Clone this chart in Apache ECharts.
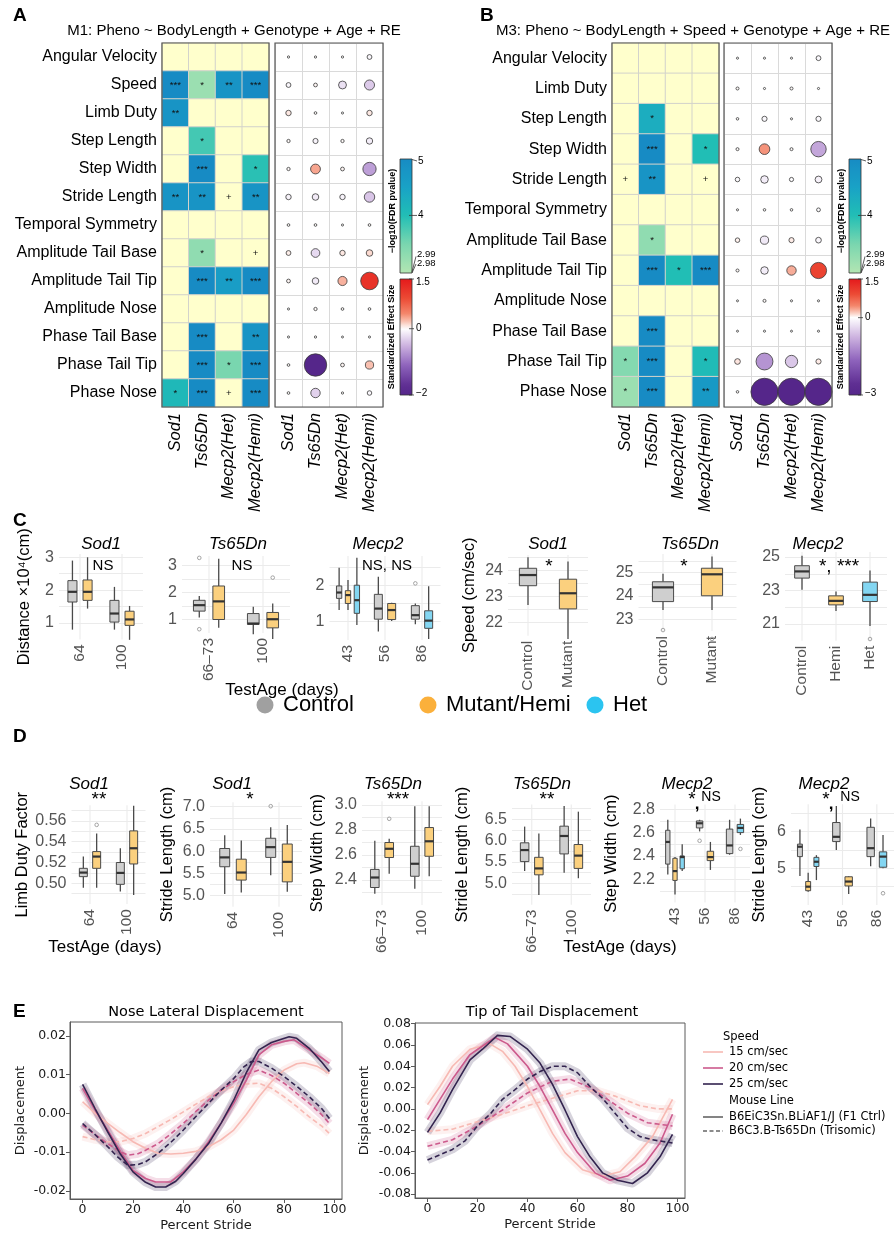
<!DOCTYPE html>
<html>
<head>
<meta charset="utf-8">
<title>Gait phenotypes figure</title>
<script src="https://cdn.jsdelivr.net/npm/echarts@6.0.0/dist/echarts.min.js"></script>
<style>
html,body{margin:0;padding:0;background:#ffffff;}
#chart{width:894px;height:1235px;}
</style>
</head>
<body>
<div id="chart"></div>
<script>
// ======================= DATA =======================
// Panels A / B : heatmap of -log10(FDR p) and effect-size dot plots
const genotypes = ['Sod1', 'Ts65Dn', 'Mecp2(Het)', 'Mecp2(Hemi)'];
const rowsA = ['Angular Velocity', 'Speed', 'Limb Duty', 'Step Length', 'Step Width', 'Stride Length',
  'Temporal Symmetry', 'Amplitude Tail Base', 'Amplitude Tail Tip', 'Amplitude Nose',
  'Phase Tail Base', 'Phase Tail Tip', 'Phase Nose'];
const rowsB = ['Angular Velocity', 'Limb Duty', 'Step Length', 'Step Width', 'Stride Length',
  'Temporal Symmetry', 'Amplitude Tail Base', 'Amplitude Tail Tip', 'Amplitude Nose',
  'Phase Tail Base', 'Phase Tail Tip', 'Phase Nose'];
const pvalA = [
  [0.5, 0.5, 0.5, 0.5],
  [5.0, 3.2, 4.8, 5.0],
  [4.8, 0.5, 0.5, 0.5],
  [0.5, 3.8, 0.5, 0.5],
  [0.5, 5.0, 0.5, 3.95],
  [4.8, 4.8, 2.6, 4.8],
  [0.5, 0.5, 0.5, 0.5],
  [0.5, 3.3, 0.5, 2.6],
  [0.5, 5.0, 4.6, 5.0],
  [0.5, 0.5, 0.5, 0.5],
  [0.5, 5.0, 0.5, 4.8],
  [0.5, 5.0, 3.5, 5.0],
  [4.1, 5.0, 2.6, 5.0]
];
const starsA = [
  ['', '', '', ''],
  ['***', '*', '**', '***'],
  ['**', '', '', ''],
  ['', '*', '', ''],
  ['', '***', '', '*'],
  ['**', '**', '+', '**'],
  ['', '', '', ''],
  ['', '*', '', '+'],
  ['', '***', '**', '***'],
  ['', '', '', ''],
  ['', '***', '', '**'],
  ['', '***', '*', '***'],
  ['*', '***', '+', '***']
];
const effectA = [
  [0.005, 0.005, 0.005, -0.06],
  [-0.06, 0.03, -0.2, -0.35],
  [0.08, 0.01, 0.004, 0.08],
  [0.02, -0.07, 0.02, -0.12],
  [0.02, 0.33, 0.03, -0.65],
  [-0.08, -0.13, -0.08, -0.38],
  [0.01, 0.01, 0.004, 0.01],
  [0.06, -0.25, 0.08, 0.13],
  [0.03, -0.13, 0.28, 1.2],
  [0.004, 0.02, 0.01, 0.01],
  [0.004, 0.005, 0.003, 0.004],
  [0.01, -2.0, 0.03, 0.22],
  [0.01, -0.3, 0.005, -0.05]
];
const pvalB = [
  [0.5, 0.5, 0.5, 0.5],
  [0.5, 0.5, 0.5, 0.5],
  [0.5, 4.3, 0.5, 0.5],
  [0.5, 5.0, 0.5, 4.0],
  [2.6, 4.8, 0.5, 2.6],
  [0.5, 0.5, 0.5, 0.5],
  [0.5, 3.3, 0.5, 0.5],
  [0.5, 5.0, 4.0, 5.0],
  [0.5, 0.5, 0.5, 0.5],
  [0.5, 5.0, 0.5, 0.5],
  [3.4, 5.0, 0.5, 4.05],
  [3.2, 5.0, 0.5, 4.7]
];
const starsB = [
  ['', '', '', ''],
  ['', '', '', ''],
  ['', '*', '', ''],
  ['', '***', '', '*'],
  ['+', '**', '', '+'],
  ['', '', '', ''],
  ['', '*', '', ''],
  ['', '***', '*', '***'],
  ['', '', '', ''],
  ['', '***', '', ''],
  ['*', '***', '', '*'],
  ['*', '***', '', '**']
];
const effectB = [
  [0.004, 0.004, 0.004, -0.06],
  [0.015, 0.004, 0.015, 0.004],
  [0.008, -0.07, 0.004, -0.07],
  [0.015, 0.4, 0.015, -0.9],
  [-0.05, -0.18, -0.04, -0.14],
  [0.004, 0.008, 0.008, -0.03],
  [0.05, -0.22, 0.07, -0.09],
  [0.015, -0.18, 0.3, 1.0],
  [0.003, 0.015, 0.004, 0.004],
  [0.003, 0.004, 0.003, 0.004],
  [0.09, -1.1, -0.55, 0.07],
  [0.008, -3.0, -3.0, -3.0]
];

// Panels C / D : boxplots  [min, Q1, median, Q3, max] per category (null = group absent)
const c1Ages = ['64', '100'];
const c1Control = [[0.8, 1.64, 1.95, 2.29, 2.9], [0.8, 1.03, 1.29, 1.69, 2.1]];
const c1Mutant = [[1.44, 1.69, 1.95, 2.31, 3.0], [0.49, 0.93, 1.11, 1.36, 1.52]];
const c1Outliers = [];

const c2Ages = ['66–73', '100'];
const c2Control = [[1.07, 1.31, 1.53, 1.71, 1.87], [0.45, 0.82, 0.85, 1.22, 1.47]];
const c2Mutant = [[0.69, 1.0, 1.67, 2.24, 3.25], [0.28, 0.69, 1.01, 1.26, 1.59]];
const c2Outliers = [['66–73', 0, 3.28], ['66–73', 0, 0.64], ['100', 1, 2.55]];

const c3Ages = ['43', '56', '86'];
const c3Control = [[1.32, 1.64, 1.8, 1.98, 2.48], [0.73, 1.07, 1.36, 1.75, 2.23], [0.93, 1.07, 1.18, 1.44, 1.5]];
const c3Hemi = [[1.32, 1.5, 1.73, 1.85, 2.14], [1.02, 1.06, 1.32, 1.5, 1.52], null];
const c3Het = [[0.91, 1.23, 1.59, 2.0, 2.75], null, [0.53, 0.82, 1.03, 1.3, 1.97]];
const c3Outliers = [['86', 0, 2.05]];

const c4Groups = ['Control', 'Mutant'];
const c4Control = [[22.68, 23.42, 23.83, 24.09, 24.51], null];
const c4Mutant = [null, [21.37, 22.53, 23.13, 23.67, 24.35]];
const c4Outliers = [];

const c5Groups = ['Control', 'Mutant'];
const c5Control = [[23.4, 23.76, 24.37, 24.61, 24.95], null];
const c5Mutant = [null, [23.4, 24.01, 24.93, 25.19, 25.69]];
const c5Outliers = [['Control', 0, 22.54], ['Mutant', 1, 22.16]];

const c6Groups = ['Control', 'Hemi', 'Het'];
const c6Control = [[23.04, 23.74, 24.14, 24.48, 25.08], null, null];
const c6Hemi = [null, [21.78, 22.14, 22.38, 22.68, 22.94], null];
const c6Het = [null, null, [20.88, 22.34, 22.74, 23.5, 24.2]];
const c6Outliers = [['Het', 2, 20.1]];

const d1Ages = ['64', '100'];
const d1Control = [[0.4958, 0.5064, 0.5103, 0.5144, 0.5257], [0.492, 0.499, 0.51, 0.52, 0.5337]];
const d1Mutant = [[0.4958, 0.5144, 0.5257, 0.5305, 0.548], [0.4888, 0.5186, 0.5337, 0.5504, 0.5745]];
const d1Outliers = [['64', 1, 0.5562]];

const d2Ages = ['64', '100'];
const d2Control = [[5.04, 5.65, 5.86, 6.06, 6.36], [5.46, 5.86, 6.09, 6.29, 6.54]];
const d2Mutant = [[5.07, 5.35, 5.52, 5.82, 6.24], [5.09, 5.31, 5.76, 6.16, 6.59]];
const d2Outliers = [['100', 0, 7.01]];

const d3Ages = ['66–73', '100'];
const d3Control = [[2.29, 2.34, 2.42, 2.485, 2.715], [2.33, 2.43, 2.53, 2.67, 2.99]];
const d3Mutant = [[2.45, 2.58, 2.65, 2.70, 2.73], [2.43, 2.59, 2.71, 2.82, 2.99]];
const d3Outliers = [['66–73', 1, 2.89]];

const d4Ages = ['66–73', '100'];
const d4Control = [[5.29, 5.51, 5.78, 5.95, 6.33], [5.25, 5.69, 6.11, 6.34, 6.81]];
const d4Mutant = [[4.73, 5.2, 5.35, 5.61, 6.17], [5.12, 5.35, 5.65, 5.91, 6.68]];
const d4Outliers = [];

const d5Ages = ['43', '56', '86'];
const d5Control = [[2.24, 2.33, 2.52, 2.62, 2.71], [2.61, 2.64, 2.68, 2.70, 2.71], [2.41, 2.42, 2.49, 2.63, 2.71]];
const d5Hemi = [[2.07, 2.19, 2.27, 2.38, 2.39], [2.28, 2.36, 2.39, 2.44, 2.52], null];
const d5Het = [[2.27, 2.29, 2.39, 2.40, 2.5], null, [2.58, 2.6, 2.64, 2.67, 2.72]];
const d5Outliers = [['56', 0, 2.53], ['86', 2, 2.46]];

const d6Ages = ['43', '56', '86'];
const d6Control = [[4.79, 5.32, 5.59, 5.66, 6.06], [5.5, 5.73, 5.86, 6.25, 6.7], [5.06, 5.32, 5.55, 6.12, 6.36]];
const d6Hemi = [[4.36, 4.39, 4.5, 4.64, 4.88], [4.3, 4.52, 4.64, 4.77, 4.79], null];
const d6Het = [[4.68, 5.05, 5.18, 5.3, 5.36], null, [5.0, 5.03, 5.32, 5.45, 5.91]];
const d6Outliers = [['86', 2, 4.32]];

// Panel E : mean displacement curves  [percent stride, displacement]
const percentTicks = [0, 20, 40, 60, 80, 100];
const noseTicks = [-0.02, -0.01, 0, 0.01, 0.02];
const tailTicks = [-0.08, -0.06, -0.04, -0.02, 0, 0.02, 0.04, 0.06, 0.08];
const noseCtrl15 = [[0,0.003],[5,0.0],[10,-0.0026],[15,-0.005],[20,-0.0073],[25,-0.009],[30,-0.0103],[35,-0.0105],[40,-0.0103],[45,-0.0098],[50,-0.0086],[55,-0.0068],[60,-0.0043],[65,-0.0003],[70,0.0043],[75,0.0082],[80,0.0112],[85,0.0128],[88,0.0131],[93,0.0122],[98,0.0103]];
const noseCtrl20 = [[0,0.0065],[5,0.0008],[10,-0.0043],[15,-0.0098],[20,-0.0147],[25,-0.0168],[29,-0.0177],[35,-0.0177],[40,-0.0151],[45,-0.0118],[50,-0.0073],[55,-0.0025],[60,0.0026],[65,0.0086],[70,0.0151],[75,0.0177],[80,0.0186],[84,0.019],[90,0.0164],[95,0.0143],[98,0.0129]];
const noseCtrl25 = [[0,0.0075],[5,0.0012],[10,-0.0048],[15,-0.0105],[20,-0.0151],[25,-0.0178],[29,-0.019],[33,-0.019],[37,-0.0175],[40,-0.0155],[45,-0.0118],[50,-0.0078],[55,-0.0025],[60,0.0034],[65,0.0105],[70,0.0164],[75,0.0183],[82,0.0198],[85,0.0194],[90,0.0168],[95,0.0132],[98,0.0108]];
const noseTri15 = [[0,-0.006],[5,-0.0068],[10,-0.0073],[15,-0.0073],[20,-0.0065],[25,-0.0052],[30,-0.0034],[35,-0.0016],[40,0.0004],[45,0.0024],[50,0.0043],[55,0.0058],[60,0.0069],[65,0.0076],[70,0.0078],[75,0.0065],[80,0.0043],[85,0.0018],[90,-0.0009],[95,-0.0033],[98,-0.0052]];
const noseTri20 = [[0,-0.003],[5,-0.0055],[10,-0.0078],[14,-0.0095],[18,-0.0108],[22,-0.0104],[25,-0.0095],[30,-0.0078],[35,-0.0053],[40,-0.0026],[45,0.0005],[50,0.0034],[55,0.006],[60,0.0082],[65,0.0101],[70,0.0112],[75,0.0098],[80,0.0078],[85,0.0052],[90,0.0026],[95,-0.0004],[98,-0.0026]];
const noseTri25 = [[0,-0.0026],[5,-0.0055],[10,-0.0086],[14,-0.0113],[18,-0.0134],[22,-0.0132],[25,-0.0125],[30,-0.0103],[35,-0.0075],[40,-0.0043],[45,-0.0008],[50,0.0026],[55,0.006],[60,0.009],[64,0.012],[67,0.0134],[70,0.0134],[75,0.0117],[80,0.0095],[85,0.007],[90,0.0043],[95,0.0012],[98,-0.0013]];
const tailCtrl15 = [[0,0.004],[5,0.021],[10,0.040],[17,0.056],[25,0.061],[30,0.054],[35,0.040],[40,0.021],[45,-0.001],[50,-0.023],[55,-0.041],[62,-0.057],[70,-0.063],[77,-0.059],[83,-0.045],[90,-0.026],[98,0.009]];
const tailCtrl20 = [[0,-0.010],[5,0.009],[10,0.028],[17,0.051],[22,0.059],[27,0.067],[32,0.061],[40,0.040],[45,0.021],[50,-0.001],[55,-0.023],[60,-0.041],[67,-0.060],[73,-0.067],[80,-0.063],[87,-0.051],[93,-0.032],[98,-0.005]];
const tailCtrl25 = [[0,-0.022],[5,-0.004],[10,0.018],[17,0.046],[22,0.056],[28,0.069],[33,0.068],[40,0.056],[45,0.043],[50,0.023],[55,-0.001],[60,-0.026],[65,-0.045],[70,-0.060],[76,-0.067],[82,-0.070],[88,-0.060],[93,-0.045],[98,-0.024]];
const tailTri15 = [[0,-0.021],[10,-0.019],[20,-0.012],[30,-0.005],[40,0.003],[50,0.010],[60,0.017],[68,0.017],[75,0.012],[85,0.003],[92,0.000],[98,0.000]];
const tailTri20 = [[0,-0.035],[10,-0.029],[20,-0.016],[30,-0.001],[40,0.015],[50,0.026],[57,0.028],[65,0.020],[72,0.009],[80,-0.004],[88,-0.013],[98,-0.016]];
const tailTri25 = [[0,-0.048],[5,-0.043],[10,-0.038],[15,-0.030],[20,-0.016],[25,-0.005],[30,0.009],[35,0.018],[40,0.028],[45,0.035],[50,0.040],[55,0.040],[60,0.034],[65,0.021],[70,0.010],[75,-0.004],[80,-0.018],[85,-0.026],[90,-0.029],[98,-0.032]];

// ======================= STYLE HELPERS =======================
const FF = '"Liberation Sans", Arial, Helvetica, sans-serif';
const FE = '"DejaVu Sans", Verdana, sans-serif';
const NS_COLOR = '#FFFFCC';
const P_STOPS = [[2.98, '#B4E6B3'], [3.5, '#79D6AF'], [4.0, '#21BEB5'], [4.5, '#19A2C6'], [5.0, '#178BC4']];
const NEG_STOPS = [[0, '#FFFFFF'], [0.25, '#CDB3E0'], [0.55, '#8E63BC'], [0.85, '#5F2F93'], [1, '#55268A']];
const POS_STOPS = [[0, '#FFFFFF'], [0.15, '#F9BFAE'], [0.3, '#F4876C'], [0.6, '#EC4B35'], [1, '#E4191B']];
const BOX_FILL = ['#CFCFCF', '#FBD07E', '#83D6F2'];
const SPEED_COL = { s15: '#F7B9B3', s20: '#CC5A8C', s25: '#33244F' };

function hex2rgb(h) { return [parseInt(h.slice(1, 3), 16), parseInt(h.slice(3, 5), 16), parseInt(h.slice(5, 7), 16)]; }
function ramp(stops, t) {
  t = Math.max(stops[0][0], Math.min(stops[stops.length - 1][0], t));
  for (let i = 1; i < stops.length; i++) {
    if (t <= stops[i][0]) {
      const a = stops[i - 1], b = stops[i];
      const f = (t - a[0]) / ((b[0] - a[0]) || 1);
      const ca = hex2rgb(a[1]), cb = hex2rgb(b[1]);
      return 'rgb(' + ca.map((v, k) => Math.round(v + (cb[k] - v) * f)).join(',') + ')';
    }
  }
  return stops[stops.length - 1][1];
}
function pColor(v) { return v < 2.98 ? NS_COLOR : ramp(P_STOPS, v); }
function effColor(v, lo, hi) { return v < 0 ? ramp(NEG_STOPS, Math.min(1, v / lo)) : ramp(POS_STOPS, Math.min(1, v / hi)); }
function dotSize(v) { return 1.2 + 15 * Math.sqrt(Math.abs(v)); }

const grids = [], xAxes = [], yAxes = [], series = [], graphics = [];
function addGrid(g, x, y) {
  const i = grids.length;
  grids.push(g);
  xAxes.push(Object.assign({ gridIndex: i }, x));
  yAxes.push(Object.assign({ gridIndex: i }, y));
  return i;
}
function T(x, y, text, o) {
  o = o || {};
  graphics.push({ type: 'text', x: x, y: y, rotation: o.rot || 0, silent: true, z: 100,
    style: { text: text, x: 0, y: 0, fill: o.color || '#000', fontSize: o.size || 14, fontFamily: o.family || FF,
      fontWeight: o.weight || 'normal', fontStyle: o.style || 'normal', textAlign: o.align || 'center',
      textVerticalAlign: o.valign || 'middle' } });
}
function L(x1, y1, x2, y2, o) {
  o = o || {};
  graphics.push({ type: 'line', silent: true, z: 100, shape: { x1: x1, y1: y1, x2: x2, y2: y2 },
    style: { stroke: o.color || '#333', lineWidth: o.width || 1, lineDash: o.dash || null } });
}
function R(x, y, w, h, o) {
  o = o || {};
  graphics.push({ type: 'rect', silent: true, z: o.z || 100, shape: { x: x, y: y, width: w, height: h },
    style: { fill: o.fill || 'none', stroke: o.stroke || null, lineWidth: o.lw || 1 } });
}
function Circ(cx, cy, r, fill) {
  graphics.push({ type: 'circle', silent: true, z: 100, shape: { cx: cx, cy: cy, r: r }, style: { fill: fill } });
}
function gradStops(fn, vTop, vBot, n) {
  const s = [];
  for (let i = 0; i <= n; i++) { const v = vTop + (vBot - vTop) * i / n; s.push({ offset: i / n, color: fn(v) }); }
  return s;
}

// ======================= PANELS A / B =======================
const HM_TOP = 43, HM_H = 364, HM_W = 107, DOT_W = 108;
const genoLabel = { interval: 0, rotate: 90, fontStyle: 'italic', fontSize: 16.5, color: '#000', margin: 6, fontFamily: FF };

function heatPanel(left, rows, pv, stars) {
  const gi = addGrid({ left: left, top: HM_TOP, width: HM_W, height: HM_H },
    { type: 'category', data: genotypes, axisLine: { show: false }, axisTick: { show: false }, splitLine: { show: false }, axisLabel: genoLabel },
    { type: 'category', data: rows, inverse: true, axisLine: { show: false }, axisTick: { show: false }, splitLine: { show: false },
      axisLabel: { interval: 0, fontSize: 16, color: '#000', margin: 5, fontFamily: FF } });
  const data = [];
  rows.forEach((r, i) => genotypes.forEach((g, j) => data.push({ value: [j, i, pv[i][j]], itemStyle: { color: pColor(pv[i][j]) } })));
  series.push({ type: 'heatmap', xAxisIndex: gi, yAxisIndex: gi, data: data, silent: true,
    itemStyle: { borderColor: '#D3D3CB', borderWidth: 1 },
    label: { show: true, formatter: p => stars[p.value[1]][p.value[0]], fontSize: 9.5, color: '#111', fontFamily: FF },
    emphasis: { disabled: true } });
  R(left, HM_TOP, HM_W, HM_H, { stroke: '#555', lw: 1.2 });
}
function dotPanel(left, rows, eff, lo, hi) {
  const gi = addGrid({ left: left, top: HM_TOP, width: DOT_W, height: HM_H },
    { type: 'category', data: genotypes, axisLine: { show: false }, axisTick: { show: false },
      splitLine: { show: true, interval: 0, lineStyle: { color: '#DADADA' } }, axisLabel: genoLabel },
    { type: 'category', data: rows, inverse: true, axisLine: { show: false }, axisTick: { show: false },
      splitLine: { show: true, interval: 0, lineStyle: { color: '#DADADA' } }, axisLabel: { show: false } });
  const data = [];
  rows.forEach((r, i) => genotypes.forEach((g, j) => data.push([j, i, eff[i][j]])));
  series.push({ type: 'scatter', xAxisIndex: gi, yAxisIndex: gi, data: data, silent: true, z: 3,
    symbolSize: v => dotSize(v[2]),
    itemStyle: { color: p => effColor(p.value[2], lo, hi), borderColor: '#3A3A3A', borderWidth: 0.8, opacity: 1 },
    emphasis: { disabled: true } });
  R(left, HM_TOP, DOT_W, HM_H, { stroke: '#555', lw: 1.2 });
}
function colorbars(x, effLo, effHi) {
  // -log10(FDR p) bar
  const pTop = 159, pH = 114;
  R(x, pTop, 12, pH, { fill: { type: 'linear', x: 0, y: 0, x2: 0, y2: 1, colorStops: gradStops(v => ramp(P_STOPS, v), 5, 2.98, 24) }, stroke: '#333', lw: 0.8 });
  const py = v => pTop + (5 - v) / (5 - 2.98) * pH;
  L(x + 12, py(5) + 0.5, x + 17, py(5) + 2, { color: '#333', width: 0.8 });
  T(x + 18, py(5) + 2, '5', { size: 10, align: 'left' });
  L(x + 9, py(4), x + 17, py(4), { color: '#333', width: 0.8 });
  T(x + 18, py(4), '4', { size: 10, align: 'left' });
  L(x + 12, py(2.99) - 0.5, x + 16, py(2.99) - 16, { color: '#333', width: 0.8 });
  T(x + 17, py(2.99) - 18, '2.99', { size: 9.5, align: 'left' });
  L(x + 12, py(2.98), x + 16, py(2.98) - 9, { color: '#333', width: 0.8 });
  T(x + 17, py(2.98) - 10, '2.98', { size: 9.5, align: 'left' });
  T(x - 7, pTop + 52, '\u2212log10(FDR pvalue)', { size: 9, weight: 'bold', rot: Math.PI / 2 });
  // effect size bar
  const eTop = 279, eH = 116;
  R(x, eTop, 12, eH, { fill: { type: 'linear', x: 0, y: 0, x2: 0, y2: 1, colorStops: gradStops(v => effColor(v, effLo, effHi), effHi, effLo, 30) }, stroke: '#333', lw: 0.8 });
  const ey = v => eTop + (effHi - v) / (effHi - effLo) * eH;
  [effHi, 0, effLo].forEach(v => {
    L(x + 9, ey(v), x + 14, ey(v), { color: '#333', width: 0.8 });
    T(x + 16, Math.min(Math.max(ey(v), eTop + 3), eTop + eH - 2), v < 0 ? '\u2212' + Math.abs(v) : String(v), { size: 10, align: 'left' });
  });
  T(x - 8, eTop + eH / 2, 'Standardized Effect Size', { size: 9, weight: 'bold', rot: Math.PI / 2 });
}

heatPanel(162, rowsA, pvalA, starsA);
dotPanel(275, rowsA, effectA, -2, 1.5);
colorbars(400, -2, 1.5);
heatPanel(612, rowsB, pvalB, starsB);
dotPanel(724, rowsB, effectB, -3, 1.5);
colorbars(849, -3, 1.5);

T(13, 16, 'A', { size: 19, weight: 'bold', align: 'left' });
T(480, 16, 'B', { size: 19, weight: 'bold', align: 'left' });
T(234, 31, 'M1: Pheno ~ BodyLength + Genotype + Age + RE', { size: 15 });
T(693, 31, 'M3: Pheno ~ BodyLength + Speed + Genotype + Age + RE', { size: 15 });

// ======================= PANELS C / D (boxplots) =======================
function boxRecords(cats, groups) {
  const recs = [];
  cats.forEach((c, i) => {
    const pres = [];
    groups.forEach((g, gi) => { if (g && g[i]) pres.push(gi); });
    pres.forEach((gi, k) => { const b = groups[gi][i]; recs.push([i, b[0], b[1], b[2], b[3], b[4], pres.length, k, gi]); });
  });
  return recs;
}
function outlierRecords(cats, groups, outs) {
  return outs.map(o => {
    const i = cats.indexOf(o[0]);
    const pres = [];
    groups.forEach((g, gi) => { if (g && g[i]) pres.push(gi); });
    return [i, o[2], pres.length, pres.indexOf(o[1]), o[1]];
  });
}
function dodge(api, n, k) {
  const band = api.size([1, 0])[0];
  const slot = band * 0.72 / n;
  return { off: (k - (n - 1) / 2) * slot, hw: slot * 0.3 };
}
function renderBox(params, api) {
  const ci = api.value(0);
  const d = dodge(api, api.value(6), api.value(7));
  const gi = api.value(8);
  const pMin = api.coord([ci, api.value(1)]), pQ1 = api.coord([ci, api.value(2)]), pMed = api.coord([ci, api.value(3)]),
        pQ3 = api.coord([ci, api.value(4)]), pMax = api.coord([ci, api.value(5)]);
  const cx = pMin[0] + d.off, hw = d.hw, stroke = '#4A4A4A';
  return { type: 'group', children: [
    { type: 'line', shape: { x1: cx, y1: pMax[1], x2: cx, y2: pQ3[1] }, style: { stroke: stroke, lineWidth: 1.3 } },
    { type: 'line', shape: { x1: cx, y1: pQ1[1], x2: cx, y2: pMin[1] }, style: { stroke: stroke, lineWidth: 1.3 } },
    { type: 'rect', shape: { x: cx - hw, y: pQ3[1], width: 2 * hw, height: pQ1[1] - pQ3[1] }, style: { fill: BOX_FILL[gi], stroke: stroke, lineWidth: 1 } },
    { type: 'line', shape: { x1: cx - hw, y1: pMed[1], x2: cx + hw, y2: pMed[1] }, style: { stroke: '#333', lineWidth: 2.2 } }
  ] };
}
function renderOutlier(params, api) {
  const ci = api.value(0);
  const d = dodge(api, api.value(2), api.value(3));
  const p = api.coord([ci, api.value(1)]);
  return { type: 'circle', shape: { cx: p[0] + d.off, cy: p[1], r: 1.8 }, style: { fill: 'none', stroke: '#9A9A9A', lineWidth: 0.9 } };
}
function renderVGrid(params, api) {
  const p = api.coord([api.value(0), 0]);
  const cs = params.coordSys;
  return { type: 'line', shape: { x1: p[0], y1: cs.y, x2: p[0], y2: cs.y + cs.height }, style: { stroke: '#EBEBEB', lineWidth: 1.1 } };
}
function boxPanel(c) {
  const isMajor = v => Math.abs((v - (c.base || 0)) / c.major - Math.round((v - (c.base || 0)) / c.major)) < 1e-6;
  const gi = addGrid({ left: c.left, top: c.top, width: c.width, height: c.height },
    { type: 'category', data: c.cats, axisLine: { show: false }, axisTick: { show: false }, splitLine: { show: false },
      axisLabel: { interval: 0, rotate: 90, fontSize: 15.5, color: '#555', margin: 5, fontFamily: FF } },
    { type: 'value', min: c.min, max: c.max, interval: c.step, axisLine: { show: false }, axisTick: { show: false },
      axisLabel: { showMinLabel: false, showMaxLabel: false, fontSize: 16, color: '#555', margin: 5, fontFamily: FF,
        formatter: v => isMajor(v) ? v.toFixed(c.dec) : '' },
      splitLine: { show: true, showMinLine: false, showMaxLine: false, lineStyle: { color: '#EBEBEB', width: 1 } },
      name: c.name || '', nameLocation: 'middle', nameGap: c.nameGap || 30, nameRotate: 90,
      nameTextStyle: { fontSize: 16.5, color: '#000', fontFamily: FF } });
  series.push({ type: 'custom', xAxisIndex: gi, yAxisIndex: gi, silent: true, z: 1, renderItem: renderVGrid,
    data: c.cats.map((cat, i) => [i]), encode: { x: 0 } });
  series.push({ type: 'custom', xAxisIndex: gi, yAxisIndex: gi, silent: true, z: 3, renderItem: renderBox,
    data: boxRecords(c.cats, c.groups), encode: { x: 0, y: [1, 5] } });
  if (c.outliers.length) {
    series.push({ type: 'custom', xAxisIndex: gi, yAxisIndex: gi, silent: true, z: 4, renderItem: renderOutlier,
      data: outlierRecords(c.cats, c.groups, c.outliers), encode: { x: 0, y: 1 } });
  }
}

boxPanel({ left: 59, top: 554, width: 84, height: 85.5, cats: c1Ages, groups: [c1Control, c1Mutant], outliers: c1Outliers,
  min: 0.5, max: 3.1, step: 0.5, major: 1, dec: 0, name: 'Distance \u00d710\u2074(cm)', nameGap: 26 });
boxPanel({ left: 182, top: 556, width: 108, height: 77, cats: c2Ages, groups: [c2Control, c2Mutant], outliers: c2Outliers,
  min: 0.5, max: 3.35, step: 0.5, major: 1, dec: 0 });
boxPanel({ left: 329.5, top: 556, width: 111, height: 84, cats: c3Ages, groups: [c3Control, c3Hemi, c3Het], outliers: c3Outliers,
  min: 0.5, max: 2.8, step: 0.5, major: 1, dec: 0 });
boxPanel({ left: 508, top: 555, width: 80, height: 80.7, cats: c4Groups, groups: [c4Control, c4Mutant], outliers: c4Outliers,
  min: 21.5, max: 24.6, step: 0.5, major: 1, dec: 0, name: 'Speed (cm/sec)', nameGap: 30 });
boxPanel({ left: 638.5, top: 554, width: 98, height: 77, cats: c5Groups, groups: [c5Control, c5Mutant], outliers: c5Outliers,
  min: 22.5, max: 25.8, step: 0.5, major: 1, dec: 0 });
boxPanel({ left: 785, top: 552, width: 102, height: 88.7, cats: c6Groups, groups: [c6Control, c6Hemi, c6Het], outliers: c6Outliers,
  min: 20, max: 25.3, step: 1, major: 2, base: 21, dec: 0 });

boxPanel({ left: 71.5, top: 805.3, width: 74, height: 98.8, cats: d1Ages, groups: [d1Control, d1Mutant], outliers: d1Outliers,
  min: 0.48, max: 0.575, step: 0.01, major: 0.02, dec: 2, name: 'Limb Duty Factor', nameGap: 41 });
boxPanel({ left: 210, top: 802.2, width: 92, height: 104.6, cats: d2Ages, groups: [d2Control, d2Mutant], outliers: d2Outliers,
  min: 4.75, max: 7.1, step: 0.25, major: 0.5, dec: 1, name: 'Stride Length (cm)', nameGap: 34 });
boxPanel({ left: 362, top: 801.3, width: 80, height: 103.7, cats: d3Ages, groups: [d3Control, d3Mutant], outliers: d3Outliers,
  min: 2.2, max: 3.03, step: 0.1, major: 0.2, dec: 1, name: 'Step Width (cm)', nameGap: 36 });
boxPanel({ left: 512, top: 804.4, width: 79, height: 100.3, cats: d4Ages, groups: [d4Control, d4Mutant], outliers: d4Outliers,
  min: 4.5, max: 6.85, step: 0.25, major: 0.5, dec: 1, name: 'Stride Length (cm)', nameGap: 41 });
boxPanel({ left: 660, top: 804.6, width: 90, height: 98, cats: d5Ages, groups: [d5Control, d5Hemi, d5Het], outliers: d5Outliers,
  min: 2.0, max: 2.84, step: 0.1, major: 0.2, dec: 1, name: 'Step Width (cm)', nameGap: 40 });
boxPanel({ left: 791, top: 804.2, width: 103, height: 100.8, cats: d6Ages, groups: [d6Control, d6Hemi, d6Het], outliers: d6Outliers,
  min: 4.0, max: 6.75, step: 0.5, major: 1, dec: 0, name: 'Stride Length (cm)', nameGap: 23 });

// C / D annotations
T(13, 521, 'C', { size: 19, weight: 'bold', align: 'left' });
[[101, 'Sod1'], [238, 'Ts65Dn'], [378, 'Mecp2'], [548, 'Sod1'], [690, 'Ts65Dn'], [818, 'Mecp2']].forEach(t => T(t[0], 544, t[1], { size: 17, style: 'italic' }));
T(103, 566, 'NS', { size: 15 });
T(242, 566, 'NS', { size: 15 });
T(387, 566, 'NS, NS', { size: 15 });
T(549, 567, '*', { size: 19 });
T(684, 567, '*', { size: 19 });
T(839, 567, '*, ***', { size: 19 });
T(282, 690, 'TestAge (days)', { size: 17 });

Circ(265, 705, 8.5, '#A0A0A0'); T(283, 705, 'Control', { size: 22, align: 'left' });
Circ(428, 705, 8.5, '#FBB03B'); T(446, 705, 'Mutant/Hemi', { size: 22, align: 'left' });
Circ(595, 705, 8.5, '#2BC4F0'); T(613, 705, 'Het', { size: 22, align: 'left' });

T(13, 737, 'D', { size: 19, weight: 'bold', align: 'left' });
[[89, 'Sod1'], [232, 'Sod1'], [393, 'Ts65Dn'], [542, 'Ts65Dn'], [687, 'Mecp2'], [824, 'Mecp2']].forEach(t => T(t[0], 784, t[1], { size: 17, style: 'italic' }));
T(99, 800, '**', { size: 19 });
T(250, 800, '*', { size: 19 });
T(398, 800, '***', { size: 19 });
T(547, 800, '**', { size: 19 });
T(692, 800, '*', { size: 19 }); T(697, 804, ',', { size: 17, weight: 'bold' }); T(711, 797, 'NS', { size: 14 });
T(826, 800, '*', { size: 19 }); T(831, 804, ',', { size: 17, weight: 'bold' }); T(850, 797, 'NS', { size: 14 });
T(105, 947, 'TestAge (days)', { size: 17 });
T(620, 947, 'TestAge (days)', { size: 17 });

// ======================= PANEL E (lines) =======================
function linePanel(c) {
  const axisCol = '#5A5A5A';
  const gi = addGrid({ left: c.left, top: c.top, width: c.width, height: c.height, show: true, borderColor: axisCol, borderWidth: 1, backgroundColor: 'rgba(0,0,0,0)' },
    { type: 'value', min: -5, max: 103, axisLine: { show: true, onZero: false, lineStyle: { color: axisCol } },
      axisTick: { show: true, customValues: percentTicks, length: 4, lineStyle: { color: axisCol } },
      axisLabel: { customValues: percentTicks, fontSize: 12.5, color: '#1A1A1A', fontFamily: FE, margin: 4 },
      splitLine: { show: false }, name: 'Percent Stride', nameLocation: 'middle', nameGap: 20,
      nameTextStyle: { fontFamily: FE, fontSize: 13, color: '#1A1A1A' } },
    { type: 'value', min: c.min, max: c.max, axisLine: { show: true, onZero: false, lineStyle: { color: axisCol } },
      axisTick: { show: true, customValues: c.ticks, length: 4, lineStyle: { color: axisCol } },
      axisLabel: { customValues: c.ticks, fontSize: 12.5, color: '#1A1A1A', fontFamily: FE, margin: 4, formatter: v => v.toFixed(2) },
      splitLine: { show: false }, name: 'Displacement', nameLocation: 'middle', nameGap: c.nameGap, nameRotate: 90,
      nameTextStyle: { fontFamily: FE, fontSize: 13, color: '#1A1A1A' } });
  c.lines.forEach(l => series.push({ type: 'line', xAxisIndex: gi, yAxisIndex: gi, data: l.data, symbol: 'none', silent: true, z: 2,
    lineStyle: { color: l.color, width: 8, opacity: 0.2, join: 'round' }, emphasis: { disabled: true } }));
  c.lines.forEach(l => series.push({ type: 'line', xAxisIndex: gi, yAxisIndex: gi, data: l.data, symbol: 'none', silent: true, z: 3,
    lineStyle: { color: l.color, width: 1.6, type: l.dashed ? [5, 3] : 'solid' }, emphasis: { disabled: true } }));
}
linePanel({ left: 70, top: 1022, width: 272, height: 177, min: -0.0221, max: 0.0236, ticks: noseTicks, nameGap: 43,
  lines: [
    { data: noseCtrl15, color: SPEED_COL.s15 }, { data: noseTri15, color: SPEED_COL.s15, dashed: true },
    { data: noseCtrl20, color: SPEED_COL.s20 }, { data: noseTri20, color: SPEED_COL.s20, dashed: true },
    { data: noseCtrl25, color: SPEED_COL.s25 }, { data: noseTri25, color: SPEED_COL.s25, dashed: true }
  ] });
linePanel({ left: 415, top: 1023, width: 270, height: 175, min: -0.0836, max: 0.0806, ticks: tailTicks, nameGap: 44,
  lines: [
    { data: tailCtrl15, color: SPEED_COL.s15 }, { data: tailTri15, color: SPEED_COL.s15, dashed: true },
    { data: tailCtrl20, color: SPEED_COL.s20 }, { data: tailTri20, color: SPEED_COL.s20, dashed: true },
    { data: tailCtrl25, color: SPEED_COL.s25 }, { data: tailTri25, color: SPEED_COL.s25, dashed: true }
  ] });

T(13, 1012, 'E', { size: 19, weight: 'bold', align: 'left' });
T(206, 1012, 'Nose Lateral Displacement', { size: 14.5, family: FE });
T(552, 1012, 'Tip of Tail Displacement', { size: 14.5, family: FE });
// legend of E
T(723, 1037, 'Speed', { size: 11.5, family: FE, align: 'left' });
[[1052, '15 cm/sec', SPEED_COL.s15], [1068, '20 cm/sec', SPEED_COL.s20], [1084, '25 cm/sec', SPEED_COL.s25]].forEach(r => {
  L(703, r[0], 723, r[0], { color: r[2], width: 1.6 });
  T(729, r[0], r[1], { size: 11.5, family: FE, align: 'left' });
});
T(729, 1101, 'Mouse Line', { size: 11.5, family: FE, align: 'left' });
L(703, 1117, 723, 1117, { color: '#666', width: 1.6 });
T(729, 1117, 'B6EiC3Sn.BLiAF1/J (F1 Ctrl)', { size: 11.5, family: FE, align: 'left' });
L(703, 1131, 723, 1131, { color: '#666', width: 1.6, dash: [4, 2.5] });
T(729, 1131, 'B6C3.B-Ts65Dn (Trisomic)', { size: 11.5, family: FE, align: 'left' });

// ======================= RENDER =======================
const chart = echarts.init(document.getElementById('chart'), null, { renderer: 'canvas' });
chart.setOption({
  animation: false,
  backgroundColor: '#ffffff',
  textStyle: { fontFamily: FF },
  grid: grids,
  xAxis: xAxes,
  yAxis: yAxes,
  series: series,
  graphic: { elements: graphics }
});
</script>
</body>
</html>
